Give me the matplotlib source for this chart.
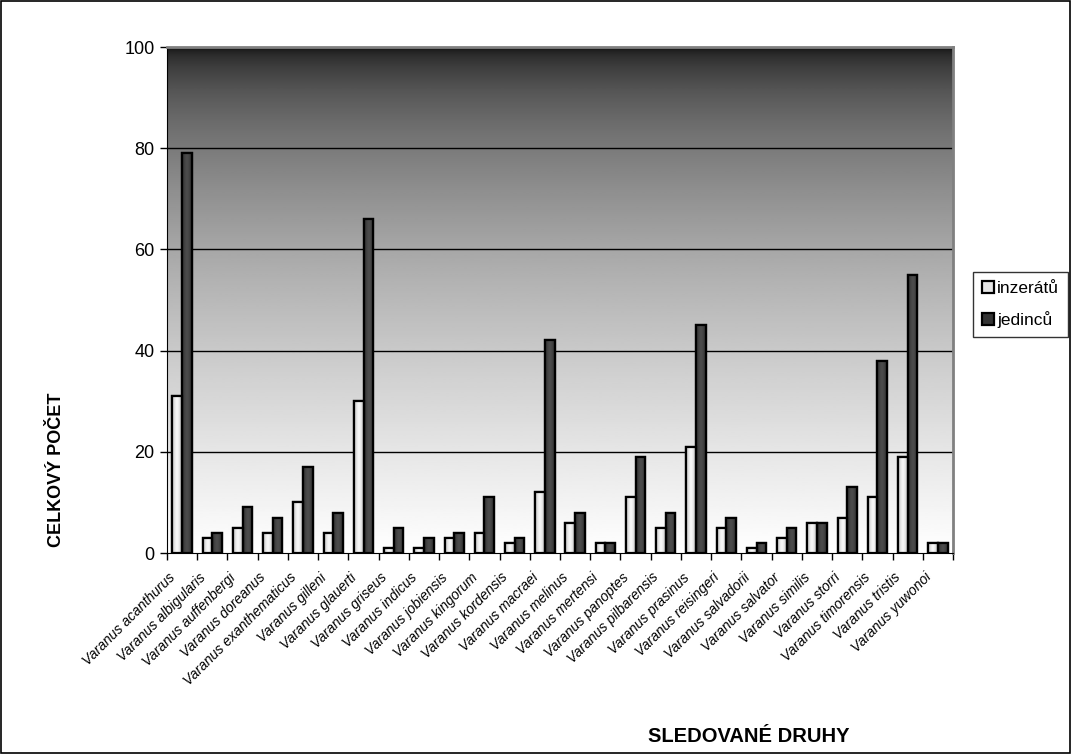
import matplotlib.pyplot as plt
import numpy as np
from matplotlib.patches import Rectangle
from matplotlib.transforms import ScaledTranslation

plt.rcParams['font.family'] = ['Liberation Sans', 'DejaVu Sans']

species = [
    'acanthurus', 'albigularis', 'auffenbergi', 'doreanus', 'exanthematicus',
    'gilleni', 'glauerti', 'griseus', 'indicus', 'jobiensis', 'kingorum',
    'kordensis', 'macraei', 'melinus', 'mertensi', 'panoptes', 'pilbarensis',
    'prasinus', 'reisingeri', 'salvadorii', 'salvator', 'similis', 'storri',
    'timorensis', 'tristis', 'yuwonoi',
]
inzeratu = [31, 3, 5, 4, 10, 4, 30, 1, 1, 3, 4, 2, 12, 6, 2, 11, 5, 21, 5, 1,
            3, 6, 7, 11, 19, 2]
jedincu = [79, 4, 9, 7, 17, 8, 66, 5, 3, 4, 11, 3, 42, 8, 2, 19, 8, 45, 7, 2,
           5, 6, 13, 38, 55, 2]
labels = ['Varanus ' + s for s in species]

fig = plt.figure(figsize=(10.71, 7.54), dpi=100)
ax = fig.add_axes([167 / 1071, 1 - 553 / 754, 786 / 1071, 506 / 754])

x = np.arange(len(species))
w = 0.32

# dark top fading to white at the bottom of the plot area
t = np.linspace(0, 1, 256)[:, None]
grad = 0.06 + 0.94 * np.sqrt(t)
ax.imshow(grad, cmap='gray', vmin=0, vmax=1, aspect='auto',
          extent=(-0.5, len(species) - 0.5, 0, 100), zorder=0,
          interpolation='bilinear')

for yv in [20, 40, 60, 80]:
    ax.axhline(yv, color='black', lw=1, zorder=1)

b1 = ax.bar(x - w / 2, inzeratu, w, color='#e6e6e6', edgecolor='black',
            lw=1.6, zorder=2, label='inzerátů')
b2 = ax.bar(x + w / 2, jedincu, w, color='#343434', edgecolor='black',
            lw=1.6, zorder=2, label='jedinců')

# horizontal shading across each bar
hgrad = np.abs(np.linspace(-1, 1, 64))[None, :]
for bars, lo, hi in [(b1, 0.97, 0.72), (b2, 0.30, 0.17)]:
    for b in bars:
        x0, y0 = b.get_x(), b.get_y()
        bw, bh = b.get_width(), b.get_height()
        img = ax.imshow(lo + (hi - lo) * hgrad ** 1.5, cmap='gray', vmin=0, vmax=1,
                        aspect='auto', extent=(x0, x0 + bw, y0, y0 + bh),
                        zorder=2.5, interpolation='bilinear')
        img.set_clip_path(b)
        ax.add_patch(Rectangle((x0, y0), bw, bh, fill=False, edgecolor='black',
                               lw=1.6, zorder=3))

ax.set_xlim(-0.5, len(species) - 0.5)
ax.set_ylim(0, 100)
ax.set_yticks(range(0, 101, 20))
ax.tick_params(axis='y', labelsize=13, length=5, width=1, pad=4)
ax.set_xticks(np.arange(len(species) + 1) - 0.5, minor=False)
ax.set_xticklabels([])
ax.set_xticks(x, minor=True)
ax.set_xticklabels(labels, minor=True, rotation=45, ha='right', va='center',
                   rotation_mode='anchor', fontsize=10, style='italic')
ax.tick_params(axis='x', which='major', length=5, width=1, direction='out')
ax.tick_params(axis='x', which='minor', length=0, pad=16)
shift = ScaledTranslation(-9 / 100, 0, fig.dpi_scale_trans)
for lab in ax.get_xticklabels(minor=True):
    lab.set_transform(lab.get_transform() + shift)

for side in ['top', 'right']:
    ax.spines[side].set_color('#808080')
    ax.spines[side].set_linewidth(2)
ax.spines['left'].set_color('black')
ax.spines['bottom'].set_color('black')

fig.text(57 / 1071, 1 - 470 / 754, 'CELKOVÝ POČET', rotation=90, ha='center',
         va='center', fontsize=13, fontweight='bold')
fig.text(749 / 1071, 1 - 737 / 754, 'SLEDOVANÉ DRUHY', ha='center',
         va='center', fontsize=14.5, fontweight='bold')

leg = fig.legend(handles=[b1, b2], loc='upper left',
                 bbox_to_anchor=(973 / 1071, 1 - 272 / 754), fontsize=12.5,
                 frameon=True, fancybox=False, edgecolor='black',
                 handlelength=0.7, handleheight=0.7, handletextpad=0.2,
                 labelspacing=0.9, borderpad=0.5, borderaxespad=0)
leg.get_frame().set_linewidth(1)

fig.add_artist(Rectangle((0.001, 0.001), 0.998, 0.998, transform=fig.transFigure,
                         fill=False, edgecolor='black', lw=1.2))

fig.savefig('out.png', dpi=100)
